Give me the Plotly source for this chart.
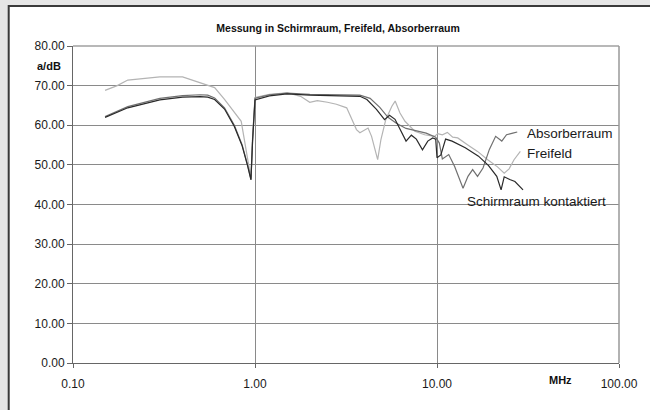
import plotly.graph_objects as go

# ---- data ----
schirm_x = [0.15, 0.20, 0.30, 0.40, 0.50, 0.55, 0.60, 0.68, 0.77, 0.85, 0.91, 0.95, 0.97, 1.00,
            1.2, 1.5, 2.0, 2.5, 3.0, 3.77, 4.12, 4.65, 5.15, 5.48, 5.88, 6.35, 6.76, 7.23, 7.70,
            8.32, 8.90, 9.47, 9.84, 10.0, 10.5, 11.15, 12.1, 14.3, 16.9, 19.2, 21.3, 22.5, 23.4,
            25.1, 26.8, 29.7]
schirm_y = [62.0, 64.4, 66.4, 67.1, 67.2, 67.1, 66.5, 64.1, 59.7, 54.8, 49.8, 46.2, 56.0, 66.4,
            67.4, 67.9, 67.6, 67.5, 67.4, 67.3, 66.5, 64.0, 61.4, 62.5, 61.5, 58.5, 56.0, 57.5, 56.5,
            53.8, 56.0, 56.8, 56.5, 51.8, 52.5, 56.5, 56.0, 54.3, 52.2, 49.8, 47.1, 43.7, 47.0,
            46.3, 45.8, 43.7]

absorber_x = [0.15, 0.20, 0.30, 0.40, 0.50, 0.55, 0.60, 0.68, 0.77, 0.85, 0.91, 0.95, 0.97, 1.00,
              1.2, 1.5, 2.0, 2.5, 3.0, 3.77, 4.29, 4.85, 5.38, 5.98, 6.76, 7.70, 8.72, 9.84, 10.3,
              10.7, 11.6, 12.5, 13.3, 13.9, 14.8, 15.7, 16.7, 17.9, 19.4, 21.0, 22.7, 24.1, 26.1, 27.6]
absorber_y = [62.2, 64.7, 66.8, 67.5, 67.7, 67.6, 66.9, 64.4, 60.0, 55.0, 50.0, 46.4, 56.5, 66.8,
              67.7, 68.1, 67.8, 67.7, 67.6, 67.6, 66.8, 64.5, 62.0, 60.5, 59.2, 58.5, 58.0, 57.0, 55.5,
              51.5, 52.6, 49.6, 46.2, 44.1, 47.1, 48.8, 47.1, 49.2, 53.9, 57.2, 56.0, 57.6, 58.0, 58.3]

frei_x = [0.15, 0.175, 0.20, 0.30, 0.40, 0.50, 0.60, 0.68, 0.84, 0.95, 0.97, 1.00,
          1.2, 1.5, 1.78, 2.0, 2.2, 2.5, 2.8, 3.19, 3.61, 3.77, 4.18, 4.37, 4.72, 4.92, 5.23,
          5.65, 5.89, 6.26, 6.67, 7.55, 8.55, 9.68, 10.1, 10.7, 11.4, 12.2, 13.0, 14.7, 16.7,
          19.0, 21.5, 23.4, 24.9, 26.5, 28.7]
frei_y = [68.8, 70.0, 71.4, 72.2, 72.2, 70.8, 69.5, 66.5, 61.0, 46.6, 57.0, 67.0,
          67.8, 68.2, 67.3, 65.8, 66.2, 65.8, 65.3, 64.4, 58.9, 58.1, 59.3, 57.2, 51.3, 56.4, 61.4,
          64.8, 66.1, 63.1, 61.0, 58.5, 57.6, 57.2, 57.9, 57.6, 58.2, 57.0, 56.8, 55.1, 53.4,
          51.3, 49.5, 47.9, 49.0, 51.3, 53.4]

x_tickvals = [0.1, 1, 10, 100]
x_ticktext = ["0.10", "1.00", "10.00", "100.00"]
y_tickvals = [0, 10, 20, 30, 40, 50, 60, 70, 80]
y_ticktext = ["%.2f" % v for v in y_tickvals]

FONT = "Liberation Sans, Arial, sans-serif"

fig = go.Figure()
fig.add_trace(go.Scatter(x=frei_x, y=frei_y, mode="lines", name="Freifeld",
                         line=dict(color="#b4b4b4", width=1.2)))
fig.add_trace(go.Scatter(x=absorber_x, y=absorber_y, mode="lines", name="Absorberraum",
                         line=dict(color="#707070", width=1.2)))
fig.add_trace(go.Scatter(x=schirm_x, y=schirm_y, mode="lines", name="Schirmraum kontaktiert",
                         line=dict(color="#2a2a2a", width=1.2)))

W, H = 650, 410
L, R, T, B = 73, 25, 46, 47
pw, ph = W - L - R, H - T - B

def px(x):
    return (x - L) / pw

def py(y):
    return (H - B - y) / ph

fig.update_layout(
    width=W, height=H,
    margin=dict(l=L, r=R, t=T, b=B),
    paper_bgcolor="#e6e6e6",
    plot_bgcolor="white",
    showlegend=False,
    font=dict(family=FONT, size=12, color="#1a1a1a"),
    title=dict(text="<b>Messung in Schirmraum, Freifeld, Absorberraum</b>",
               font=dict(family=FONT, size=10.5, color="#111"),
               x=px(341), xref="paper", xanchor="center",
               y=1 - 28 / H, yref="container", yanchor="middle"),
    xaxis=dict(type="log", range=[-1, 2], tickvals=x_tickvals, ticktext=x_ticktext,
               showgrid=True, gridcolor="#8a8a8a", gridwidth=1,
               showline=True, linecolor="#666", linewidth=1,
               ticks="outside", ticklen=4, tickcolor="#666",
               ticklabelstandoff=6, zeroline=False,
               tickfont=dict(family=FONT, size=12, color="#1a1a1a")),
    yaxis=dict(range=[0, 80], tickvals=y_tickvals, ticktext=y_ticktext,
               showgrid=True, gridcolor="#8a8a8a", gridwidth=1,
               showline=True, linecolor="#666", linewidth=1,
               ticks="outside", ticklen=5, tickcolor="#666", zeroline=False,
               tickfont=dict(family=FONT, size=12, color="#1a1a1a")),
    shapes=[
        dict(type="rect", xref="paper", yref="paper", layer="below",
             x0=px(8), x1=px(W + 20), y0=py(H + 20), y1=py(6),
             fillcolor="white", line=dict(color="#3a3a3a", width=2)),
        dict(type="line", xref="paper", yref="paper", x0=0, x1=1, y0=1, y1=1,
             line=dict(color="#a0a0a0", width=1.5)),
        dict(type="line", xref="paper", yref="paper", x0=1, x1=1, y0=0, y1=1,
             line=dict(color="#999999", width=1.5)),
    ],
    annotations=[
        dict(text="<b>a/dB</b>", xref="paper", yref="paper", x=px(35), y=py(66),
             xanchor="left", yanchor="middle", showarrow=False,
             font=dict(family=FONT, size=11, color="#111")),
        dict(text="<b>MHz</b>", xref="paper", yref="paper", x=px(566), y=py(380),
             xanchor="center", yanchor="middle", showarrow=False,
             font=dict(family=FONT, size=11, color="#111")),
        dict(text="Absorberraum", xref="paper", yref="paper", x=px(530), y=py(133),
             xanchor="left", yanchor="middle", showarrow=False,
             font=dict(family=FONT, size=13.5, color="#1a1a1a")),
        dict(text="Freifeld", xref="paper", yref="paper", x=px(530), y=py(153),
             xanchor="left", yanchor="middle", showarrow=False,
             font=dict(family=FONT, size=13.5, color="#1a1a1a")),
        dict(text="Schirmraum kontaktiert", xref="paper", yref="paper", x=px(469), y=py(201),
             xanchor="left", yanchor="middle", showarrow=False,
             font=dict(family=FONT, size=13.5, color="#1a1a1a")),
    ],
)

fig.write_html(
    "out.html",
    config={"displayModeBar": False},
    post_script="document.body.style.margin='0';document.body.style.overflow='hidden';",
)
